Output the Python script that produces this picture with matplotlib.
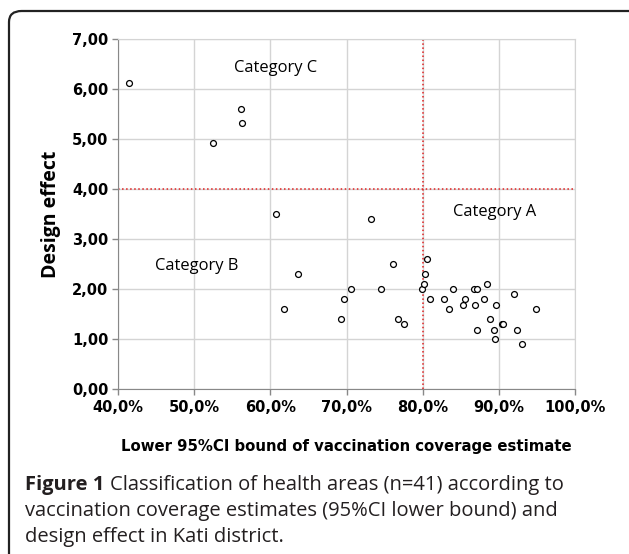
import matplotlib
matplotlib.use("Agg")
import matplotlib.pyplot as plt
from matplotlib.patches import FancyBboxPatch
from matplotlib.ticker import FuncFormatter, MultipleLocator

coverage = [41.45, 56.1, 56.3, 52.5, 60.7, 73.25, 63.6, 61.8, 69.3, 69.7, 70.6,
            74.5, 76.1, 76.8, 77.6, 79.9, 80.2, 80.3, 80.6, 81.0, 82.8, 83.4,
            84.0, 85.3, 85.6, 86.8, 87.1, 86.9, 87.1, 88.0, 88.5, 88.9, 89.4,
            89.6, 89.5, 90.4, 90.6, 92.0, 92.4, 93.0, 94.9]
deff = [6.12, 5.61, 5.32, 4.92, 3.50, 3.41, 2.31, 1.61, 1.40, 1.80, 2.01,
        2.01, 2.51, 1.40, 1.30, 2.01, 2.11, 2.30, 2.60, 1.80, 1.80, 1.61,
        2.01, 1.69, 1.80, 2.01, 2.01, 1.69, 1.19, 1.80, 2.11, 1.40, 1.19,
        1.69, 1.00, 1.30, 1.30, 1.91, 1.19, 0.90, 1.61]
cov_threshold = 80
deff_threshold = 4
categories = ["Category C", "Category A", "Category B"]
cat_pos = [(55.2, 6.43), (84.0, 3.55), (44.8, 2.47)]

W, H = 629, 554
fig = plt.figure(figsize=(W / 100, H / 100), dpi=100)

# rounded frame
box = FancyBboxPatch((9 / W, -0.1), 1.2, (1 - 11 / H) + 0.1,
                     boxstyle="round,pad=0,rounding_size=0.02",
                     transform=fig.transFigure, fill=False,
                     edgecolor="#222222", linewidth=1.6)
fig.patches.append(box)

ax = fig.add_axes([118 / W, 1 - 389.3 / H, (575 - 118) / W, (389.3 - 39) / H])
ax.set_xlim(40, 100)
ax.set_ylim(0, 7)
ax.xaxis.set_major_locator(MultipleLocator(10))
ax.yaxis.set_major_locator(MultipleLocator(1))
ax.grid(True, color="#d4d4d4", linewidth=1)
ax.set_axisbelow(True)
for s in ax.spines.values():
    s.set_color("#d4d4d4")
ax.spines["left"].set_color("#888888")
ax.spines["bottom"].set_color("#888888")
ax.tick_params(axis="both", length=4, color="#888888", width=1)

tickfont = dict(family="DejaVu Sans", weight="bold", size=10.5)
ax.xaxis.set_major_formatter(FuncFormatter(lambda v, p: f"{v:.1f}%".replace(".", ",")))
ax.yaxis.set_major_formatter(FuncFormatter(lambda v, p: f"{v:.2f}".replace(".", ",")))
ax.tick_params(axis="x", pad=4)
ax.tick_params(axis="y", pad=3)
plt.setp(ax.get_xticklabels(), **tickfont)
plt.setp(ax.get_yticklabels(), **tickfont)

ax.axvline(cov_threshold, color="#e02020", linestyle=":", linewidth=1.1)
ax.axhline(deff_threshold, color="#e02020", linestyle=":", linewidth=1.1)

ax.scatter(coverage, deff, s=18, facecolors="white", edgecolors="black",
           linewidths=0.9, zorder=3)

for txt, (cx, cy) in zip(categories, cat_pos):
    ax.text(cx, cy, txt, fontsize=11.9, family="Open Sans", va="center", ha="left")

ax.set_ylabel("Design effect", fontsize=14, weight="bold", family="Open Sans", labelpad=8)
ax.set_xlabel("Lower 95%CI bound of vaccination coverage estimate",
              fontsize=10.7, weight="bold", family="DejaVu Sans", labelpad=17)

cap_font = dict(fontsize=14.5, family="Open Sans", color="#231f20", va="center")
t_bold = fig.text(25 / W, 1 - 485 / H, "Figure 1", weight="bold", **cap_font)
fig.canvas.draw()
bb = t_bold.get_window_extent()
space = 6
fig.text((bb.x1 + space) / W, 1 - 485 / H,
         "Classification of health areas (n=41) according to", **cap_font)
fig.text(25 / W, 1 - 511 / H, "vaccination coverage estimates (95%CI lower bound) and", **cap_font)
fig.text(25 / W, 1 - 537 / H, "design effect in Kati district.", **cap_font)

fig.savefig("out.png", dpi=100)
